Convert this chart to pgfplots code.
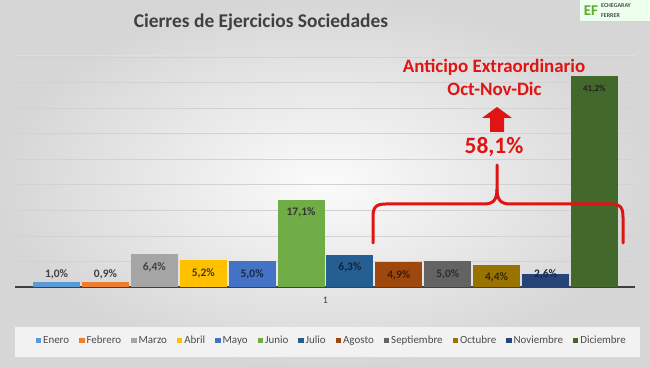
\documentclass[border=0pt]{standalone}
\usepackage{pgfplots}
\pgfplotsset{compat=1.18}
\usepackage{fontspec}
\setmainfont{Carlito}
\definecolor{cEne}{HTML}{5B9BD5}
\definecolor{cFeb}{HTML}{ED7D31}
\definecolor{cMar}{HTML}{A5A5A5}
\definecolor{cAbr}{HTML}{FFC000}
\definecolor{cMay}{HTML}{4472C4}
\definecolor{cJun}{HTML}{70AD47}
\definecolor{cJul}{HTML}{255E91}
\definecolor{cAgo}{HTML}{9E480E}
\definecolor{cSep}{HTML}{636363}
\definecolor{cOct}{HTML}{997300}
\definecolor{cNov}{HTML}{264478}
\definecolor{cDic}{HTML}{43682B}
\definecolor{lbl}{HTML}{404040}
\definecolor{annred}{RGB}{225,20,20}
\definecolor{logogreen}{HTML}{5DAA2E}
\pgfplotsset{
  lab/.style 2 args={
    nodes near coords={\pgfmathprintnumber[fixed,fixed zerofill,precision=1,use comma,assume math mode=true]{\pgfplotspointmeta}\%},
    every node near coord/.append style={anchor=center, yshift=#1, font=\bfseries\fontsize{11.5}{13}\selectfont, text=#2}
  }
}
\begin{document}
\begin{tikzpicture}
\useasboundingbox (0,0) rectangle (650bp,367bp);
\shade[inner color=white!97!gray, outer color=gray!32] (0,0) rectangle (650bp,367bp);
\fill[gray!10] (15bp,10bp) rectangle (640bp,40bp);
\draw[gray!25] (15bp,312bp) -- (635bp,312bp);
\begin{axis}[
  at={(15bp,80bp)}, anchor=south west,
  scale only axis, width=620bp, height=230bp,
  xmin=-0.85, xmax=11.83, ymin=0, ymax=45,
  ybar, bar width=0.96, bar shift=0pt,
  axis lines*=left,
  y axis line style={draw=none},
  x axis line style={black!75, line width=1.2bp},
  tick style={draw=none},
  ytick={0,5,...,45}, yticklabels={},
  ymajorgrids, major grid style={gray!35, line width=0.6bp},
  xtick={5.5}, xticklabels={1},
  xticklabel style={font=\fontsize{10}{12}\selectfont, text=lbl, yshift=-2bp},
  /pgf/number format/assume math mode=true,
  legend columns=12,
  legend style={at={(0.511,-0.235)}, anchor=center, draw=none, fill=none,
    font=\fontsize{11}{13}\selectfont, text=black!70,
    nodes={text height=1.6ex, text depth=0.45ex},
    /tikz/every even column/.append style={column sep=8bp}},
  legend image code/.code={\fill[#1,draw=none] (0bp,-2.2bp) rectangle (5.4bp,3.2bp);},
  clip=false,
]
\addplot[fill=cEne, draw=none, bar shift=0pt, lab={8bp}{lbl}] coordinates {(0,1.0)}; \addlegendentry{Enero}
\addplot[fill=cFeb, draw=none, bar shift=0pt, lab={8bp}{lbl}] coordinates {(1,0.9)}; \addlegendentry{Febrero}
\addplot[fill=cMar, draw=none, bar shift=0pt, lab={-13bp}{lbl}] coordinates {(2,6.4)}; \addlegendentry{Marzo}
\addplot[fill=cAbr, draw=none, bar shift=0pt, lab={-13bp}{cAbr!30!black}] coordinates {(3,5.2)}; \addlegendentry{Abril}
\addplot[fill=cMay, draw=none, bar shift=0pt, lab={-13bp}{cMay!35!black}] coordinates {(4,5.0)}; \addlegendentry{Mayo}
\addplot[fill=cJun, draw=none, bar shift=0pt, lab={-13bp}{lbl!80!black}] coordinates {(5,17.1)}; \addlegendentry{Junio}
\addplot[fill=cJul, draw=none, bar shift=0pt, lab={-13bp}{cJul!40!black}] coordinates {(6,6.3)}; \addlegendentry{Julio}
\addplot[fill=cAgo, draw=none, bar shift=0pt, lab={-13bp}{cAgo!40!black}] coordinates {(7,4.9)}; \addlegendentry{Agosto}
\addplot[fill=cSep, draw=none, bar shift=0pt, lab={-13bp}{lbl!70!black}] coordinates {(8,5.0)}; \addlegendentry{Septiembre}
\addplot[fill=cOct, draw=none, bar shift=0pt, lab={-13bp}{cOct!35!black}] coordinates {(9,4.4)}; \addlegendentry{Octubre}
\addplot[fill=cNov, draw=none, bar shift=0pt, lab={-1bp}{cNov!60!black}] coordinates {(10,2.6)}; \addlegendentry{Noviembre}
\addplot[fill=cDic, draw=none, bar shift=0pt, lab={-13bp}{lbl!50!black}, every node near coord/.append style={font=\bfseries\fontsize{9}{10}\selectfont}] coordinates {(11,41.2)}; \addlegendentry{Diciembre}
\end{axis}
% title
\node[text=black!75, font=\bfseries\fontsize{19.5}{22}\selectfont] at (261bp,345bp) {Cierres de Ejercicios Sociedades};
% logo
\fill[white!93!green] (580bp,346bp) rectangle (650bp,367bp);
\node[text=logogreen, font=\bfseries\fontsize{15}{15}\selectfont, inner sep=0pt] at (591bp,356.5bp) {EF};
\node[text=black!70, font=\bfseries\fontsize{6}{6}\selectfont, inner sep=0pt, anchor=base west] at (601bp,359.8bp) {ECHEGARAY};
\node[text=black!70, font=\bfseries\fontsize{6}{6}\selectfont, inner sep=0pt, anchor=base west] at (601bp,349.3bp) {FERRER};
% annotations
\node[text=annred, font=\bfseries\fontsize{19}{21}\selectfont] at (494bp,300bp) {Anticipo Extraordinario};
\node[text=annred, font=\bfseries\fontsize{19}{21}\selectfont] at (494.5bp,278bp) {Oct-Nov-Dic};
\fill[annred] (497bp,260bp) -- (512bp,249bp) -- (504bp,249bp) -- (504bp,235bp) -- (490bp,235bp) -- (490bp,249bp) -- (482bp,249bp) -- cycle;
\node[text=annred, font=\bfseries\fontsize{23.5}{26}\selectfont] at (494bp,220bp) {58,1\%};
\draw[annred, line width=3bp, line cap=round, line join=round]
  (373bp,124bp) -- (373bp,150bp) .. controls (373bp,160bp) and (376bp,163bp) .. (386bp,163bp)
  -- (484bp,163bp) .. controls (494bp,163bp) and (497bp,168bp) .. (497bp,178bp) -- (497bp,202bp);
\draw[annred, line width=3bp, line cap=round, line join=round]
  (497bp,178bp) .. controls (497bp,168bp) and (500bp,163bp) .. (510bp,163bp)
  -- (610bp,163bp) .. controls (620bp,163bp) and (623bp,160bp) .. (623bp,150bp) -- (623bp,124bp);
\end{tikzpicture}
\end{document}
